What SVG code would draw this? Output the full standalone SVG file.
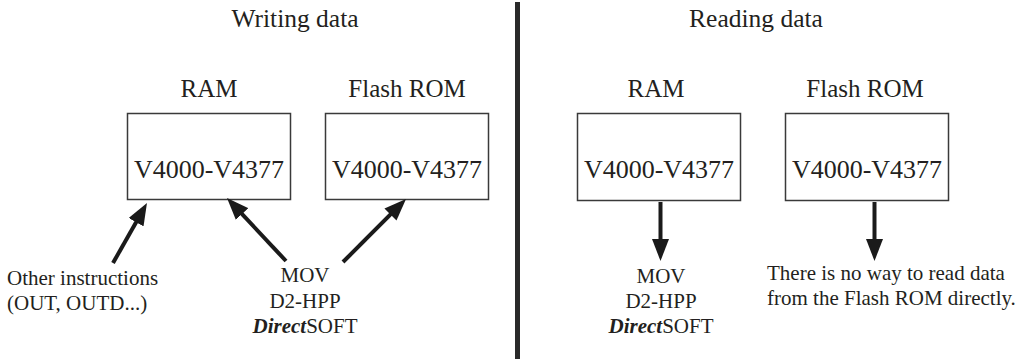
<svg xmlns="http://www.w3.org/2000/svg" width="1019" height="361" viewBox="0 0 1019 361">
<style>
text{font-family:"Liberation Serif","Times New Roman",serif;fill:#231f20}
.title{font-size:25.5px;text-anchor:middle}
.hdr{font-size:25px;text-anchor:middle}
.val{font-size:26px;text-anchor:middle}
.lbl{font-size:21px}
.c{text-anchor:middle}
.box{fill:#fff;stroke:#3a3a3a;stroke-width:1.5}
.arr{stroke:#1a1a1a;stroke-width:4;fill:none;marker-end:url(#ah)}
</style>
<defs>
<marker id="ah" markerUnits="userSpaceOnUse" viewBox="0 0 22 17" markerWidth="22" markerHeight="17" refX="4" refY="8.5" orient="auto">
<path d="M0,0 L22,8.5 L0,17 z" fill="#1a1a1a"/>
</marker>
</defs>
<rect x="0" y="0" width="1019" height="361" fill="#fff"/>
<g id="divider"><rect x="515" y="2" width="5" height="357" fill="#2a2a2a"/></g>
<g id="titles">
<text class="title" x="295" y="27">Writing data</text>
<text class="title" x="756" y="27">Reading data</text>
</g>
<g id="w-ram">
<text class="hdr" x="209" y="97">RAM</text>
<rect class="box" x="127.5" y="113.5" width="163" height="86"/>
<text class="val" x="209" y="178">V4000-V4377</text>
</g>
<g id="w-flash">
<text class="hdr" x="407" y="97">Flash ROM</text>
<rect class="box" x="325.5" y="113.5" width="163" height="86"/>
<text class="val" x="407" y="178">V4000-V4377</text>
</g>
<g id="r-ram">
<text class="hdr" x="656" y="97">RAM</text>
<rect class="box" x="577.5" y="113.5" width="163" height="87"/>
<text class="val" x="659" y="178">V4000-V4377</text>
</g>
<g id="r-flash">
<text class="hdr" x="865" y="97">Flash ROM</text>
<rect class="box" x="785.5" y="113.5" width="163" height="87"/>
<text class="val" x="867" y="178">V4000-V4377</text>
</g>
<g id="w-other">
<text class="lbl" x="7" y="285">Other instructions</text>
<text class="lbl" x="7" y="310">(OUT, OUTD...)</text>
</g>
<g id="w-mov">
<text class="lbl c" x="305" y="282">MOV</text>
<text class="lbl c" x="305" y="308">D2-HPP</text>
<text class="lbl c" x="305" y="333"><tspan font-weight="bold" font-style="italic">Direct</tspan>SOFT</text>
</g>
<g id="r-mov">
<text class="lbl c" x="661" y="283">MOV</text>
<text class="lbl c" x="661" y="308">D2-HPP</text>
<text class="lbl c" x="661" y="333"><tspan font-weight="bold" font-style="italic">Direct</tspan>SOFT</text>
</g>
<g id="r-note">
<text class="lbl" x="767" y="280" font-size="20.6">There is no way to read data</text>
<text class="lbl" x="767" y="305" font-size="20.6">from the Flash ROM directly.</text>
</g>
<g id="connectors">
<line class="arr" x1="113" y1="263" x2="138.1" y2="218.7"/>
<line class="arr" x1="286" y1="261" x2="239.3" y2="211.1"/>
<line class="arr" x1="343" y1="262" x2="393.3" y2="211.7"/>
<line class="arr" x1="660.5" y1="202" x2="660.5" y2="243"/>
<line class="arr" x1="874.5" y1="202" x2="874.5" y2="243"/>
</g>
</svg>
